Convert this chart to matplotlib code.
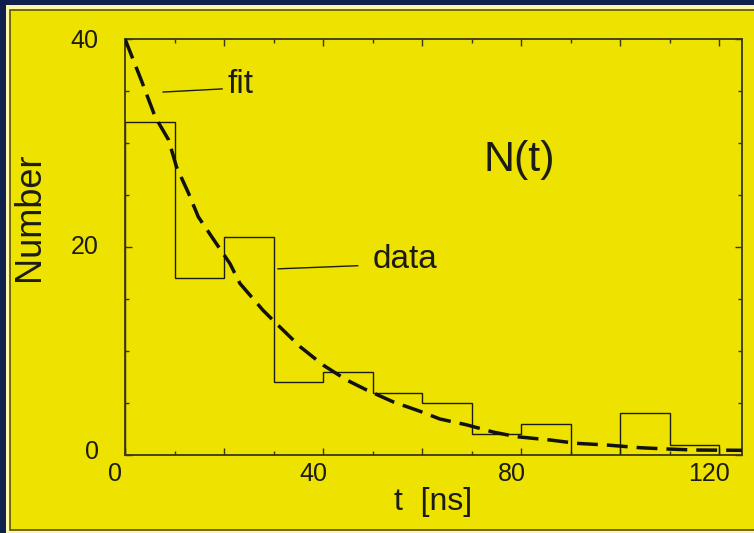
import matplotlib
matplotlib.use("Agg")
import matplotlib.pyplot as plt
from matplotlib.patches import Rectangle
from matplotlib.ticker import MultipleLocator, FuncFormatter
from matplotlib.transforms import ScaledTranslation
import numpy as np

# === Data ===
bin_edges = [0, 10, 20, 30, 40, 50, 60, 70, 80, 90, 100, 110, 120, 130]
counts = [32, 17, 21, 7, 8, 6, 5, 2, 3, 0, 4, 1, 0]

t_fit = [0, 3.4, 6.1, 8.8, 10.4, 12.8, 14.8, 18.2, 21.2, 23.2, 27.9, 31.3,
         35.4, 40, 44.8, 48.8, 54.2, 59.6, 63.6, 69, 74.4, 79.1, 85.9, 91.2,
         97.3, 104, 109.4, 114.8, 124.6]
n_fit = [40, 35.9, 32.5, 30.3, 27.7, 25.2, 22.9, 20.5, 18.4, 16.5, 13.9, 12.3,
         10.4, 8.65, 7.2, 6.25, 5.1, 4.2, 3.46, 2.9, 2.2, 1.76, 1.44, 1.12,
         0.96, 0.70, 0.58, 0.48, 0.45]

# === Colours / fonts ===
navy = "#10204e"
yellow = "#ede200"
ink = "#1c1c14"
axc = "#3a3810"
plt.rcParams["font.family"] = ["Liberation Sans", "DejaVu Sans"]

W, H = 754, 533
fig = plt.figure(figsize=(W / 100, H / 100), dpi=100, facecolor=navy)

# slide frame: pale rim and yellow panel
fig.patches.append(Rectangle((6 / W, -0.01), 1.1, 1 - 5 / H + 0.01,
                             transform=fig.transFigure, facecolor="#fff6a8",
                             edgecolor="none", zorder=-2))
fig.patches.append(Rectangle((9.5 / W, 3 / H), 1.1, 1 - 12.5 / H,
                             transform=fig.transFigure, facecolor=yellow,
                             edgecolor="#5a5206", lw=1.2, zorder=-1))

ax = fig.add_axes([125 / W, 1 - 455 / H, (742 - 125) / W, (455 - 39) / H])
ax.patch.set_alpha(0)

ax.stairs(counts, bin_edges, color=ink, lw=1.0, zorder=2)
ax.plot(t_fit, n_fit, color="#111111", lw=2.5, dashes=(6, 2.6),
        zorder=3, solid_capstyle="butt")

ax.set_xlim(0, 124.6)
ax.set_ylim(0, 40)

for s in ax.spines.values():
    s.set_color(axc)
    s.set_linewidth(1.3)

ax.xaxis.set_major_locator(MultipleLocator(20))
ax.xaxis.set_minor_locator(MultipleLocator(10))
ax.yaxis.set_major_locator(MultipleLocator(20))
ax.yaxis.set_minor_locator(MultipleLocator(5))
ax.xaxis.set_major_formatter(FuncFormatter(lambda v, p: f"{v:.0f}" if v % 40 == 0 else ""))
ax.tick_params(which="both", direction="in", top=True, right=True,
               color=axc, width=1.0)
ax.tick_params(which="major", length=5)
ax.tick_params(which="minor", length=3)
ax.tick_params(axis="x", which="major", pad=5, labelsize=18, labelcolor=ink)
ax.tick_params(axis="y", which="major", pad=19, labelsize=18, labelcolor=ink)

dx = ScaledTranslation(-7 / 72, 0, fig.dpi_scale_trans)
for lbl in ax.get_xticklabels():
    lbl.set_transform(lbl.get_transform() + dx)
for lbl, up in zip(ax.get_yticklabels(), [10, 4, 2]):
    lbl.set_transform(lbl.get_transform() + ScaledTranslation(0, up / 72, fig.dpi_scale_trans))

ax.set_xlabel("t  [ns]", fontsize=23, color=ink, labelpad=1)
ax.set_ylabel("Number", fontsize=26, color=ink)
ax.yaxis.set_label_coords(-(125 - 47) / (742 - 125), (455 - 217) / (455 - 39))

# annotations
ax.plot([7.7, 19.6], [34.9, 35.2], color=ink, lw=1.0)
ax.text(20.8, 35.6, "fit", fontsize=24, color=ink, va="center", ha="left")
ax.plot([30.9, 47.0], [17.9, 18.2], color=ink, lw=1.0)
ax.text(50.1, 18.8, "data", fontsize=24, color=ink, va="center", ha="left")
ax.text(72.3, 28.4, "N(t)", fontsize=31, color=ink, va="center", ha="left")

fig.savefig("out.png", dpi=100, facecolor=navy)
